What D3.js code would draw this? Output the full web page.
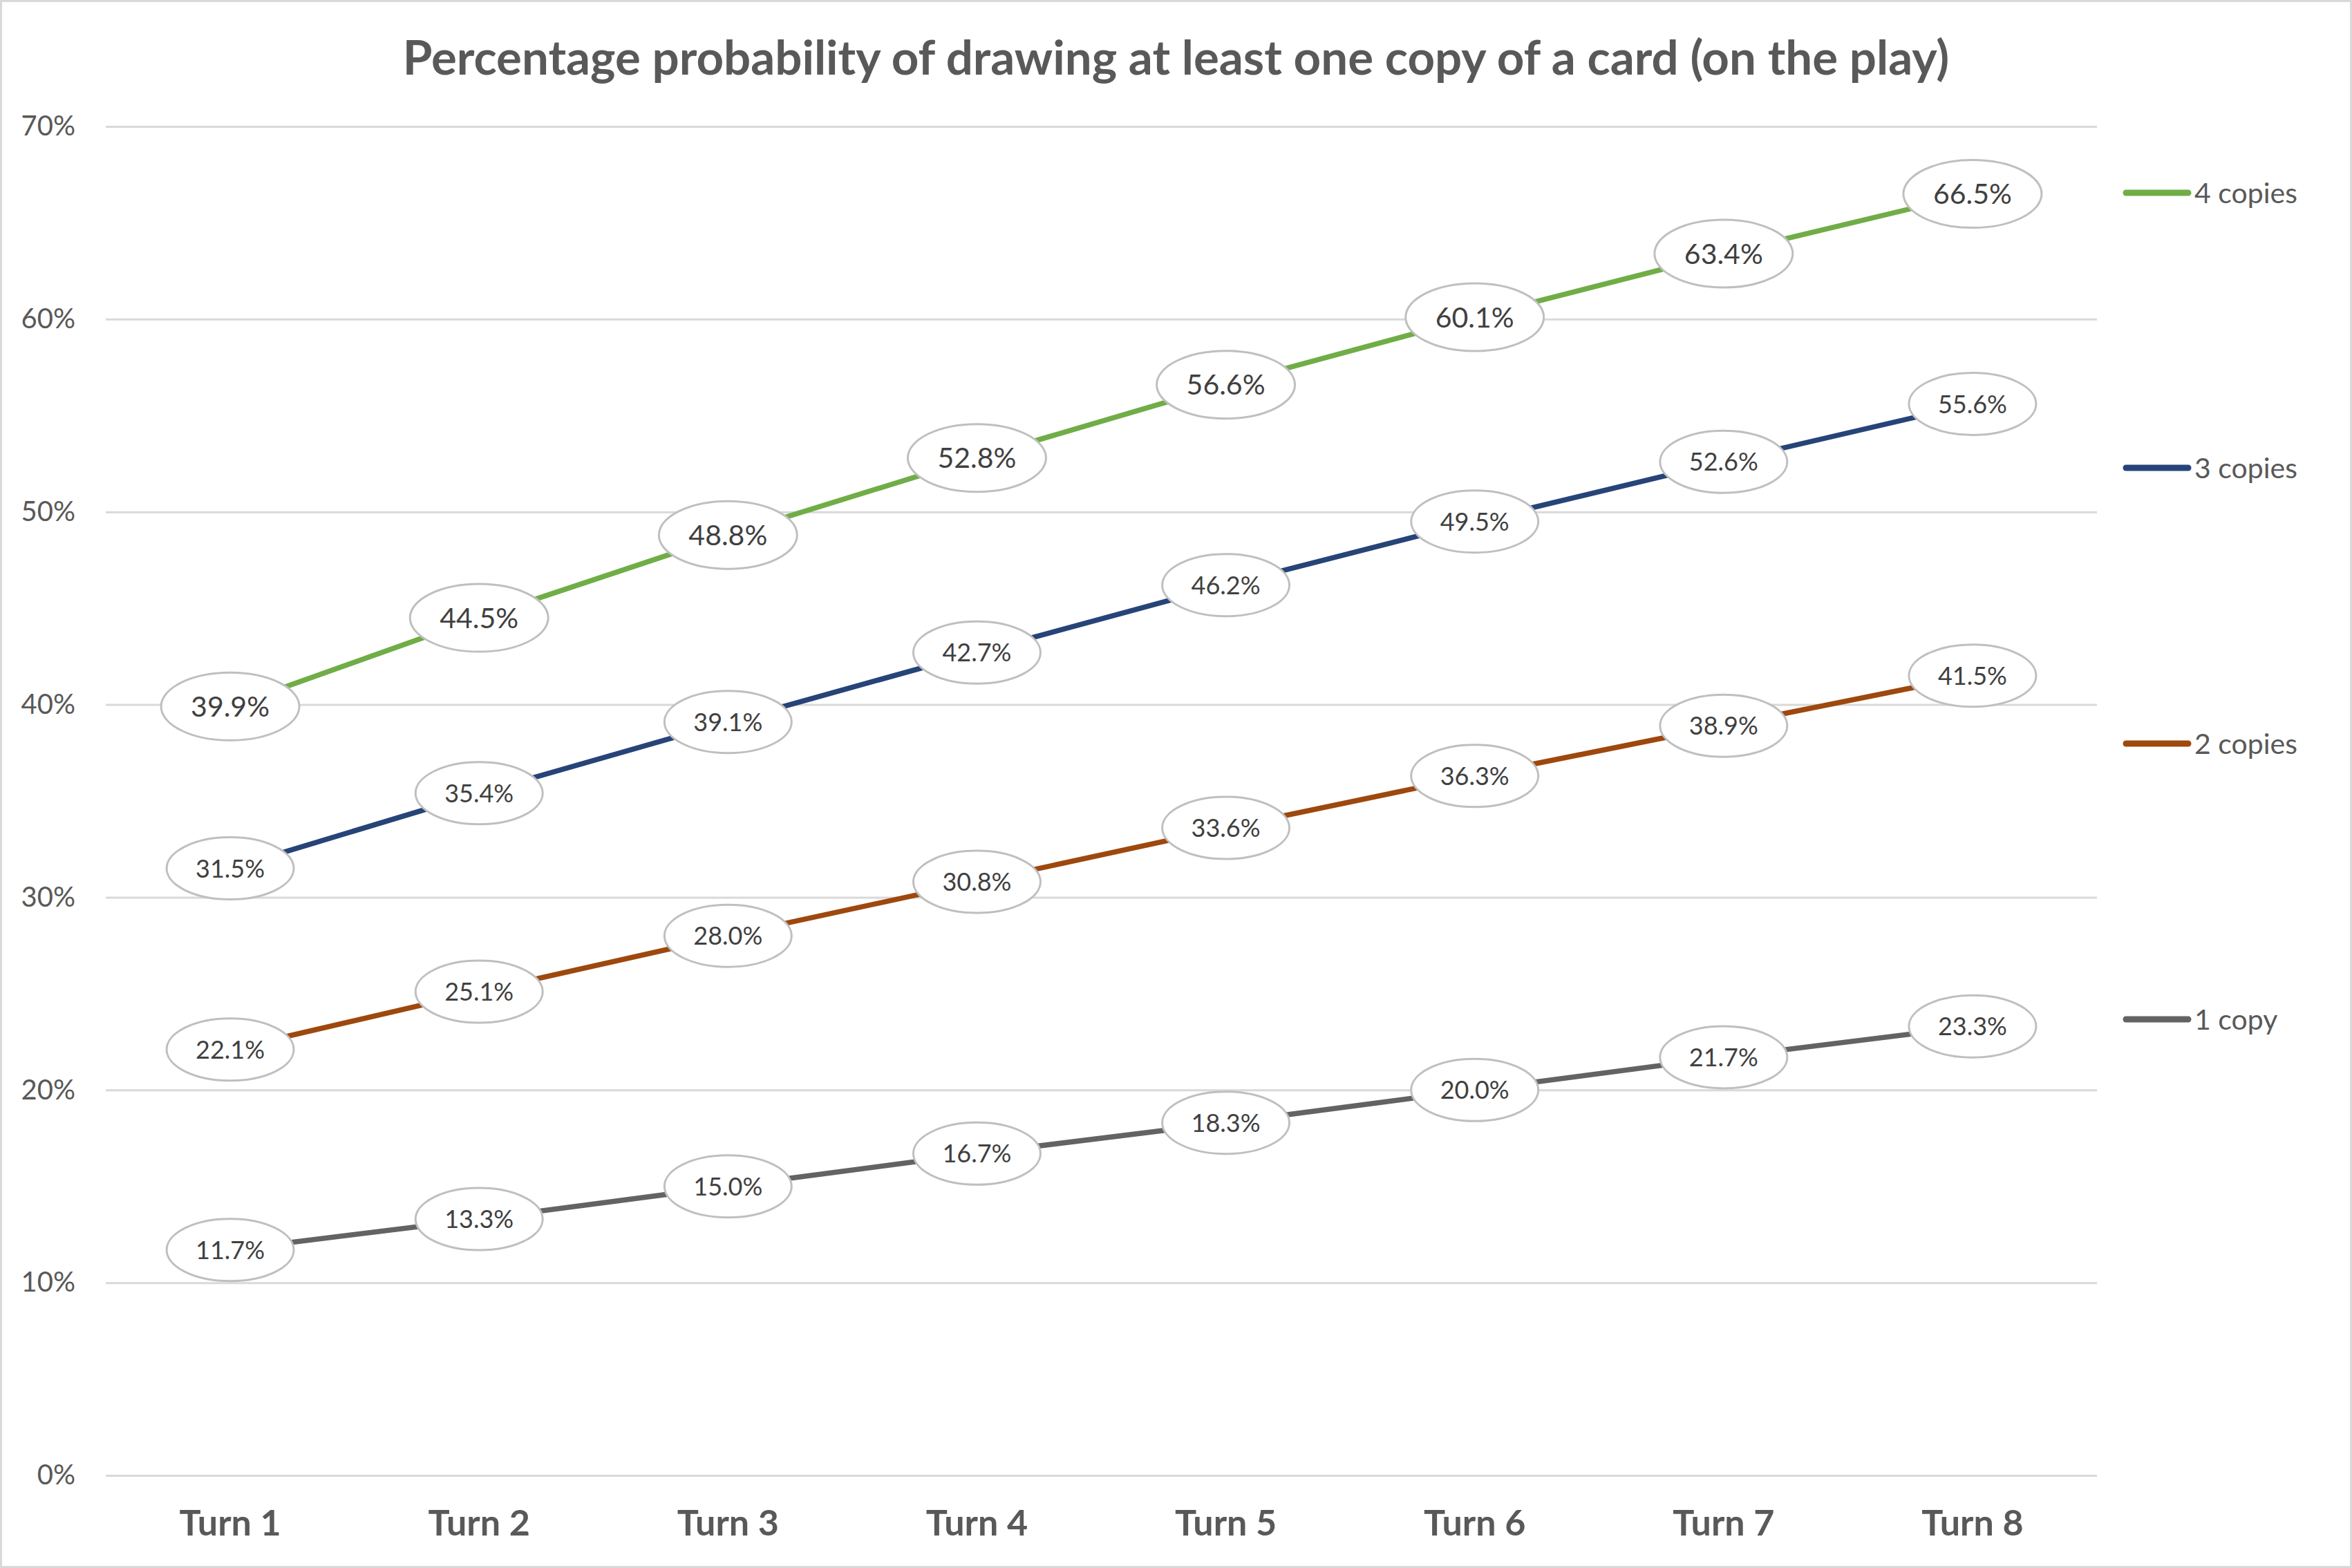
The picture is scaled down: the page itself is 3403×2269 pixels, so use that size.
<!DOCTYPE html>
<html>
<head>
<meta charset="utf-8">
<script src="https://cdn.jsdelivr.net/npm/d3@7"></script>
<style>
  html, body { margin: 0; padding: 0; background: #fff; }
  svg { display: block; }
</style>
</head>
<body>
<svg id="chart" width="3403" height="2269"></svg>
<script>
const title = "Percentage probability of drawing at least one copy of a card (on the play)";
const turns = ["Turn 1", "Turn 2", "Turn 3", "Turn 4", "Turn 5", "Turn 6", "Turn 7", "Turn 8"];
const yTicks = [0, 10, 20, 30, 40, 50, 60, 70];
const seriesNames = ["1 copy", "2 copies", "3 copies", "4 copies"];
const seriesColors = ["#636363", "#9E480E", "#264478", "#70AD47"];
const oneCopy   = [11.7, 13.3, 15.0, 16.7, 18.3, 20.0, 21.7, 23.3];
const twoCopies = [22.1, 25.1, 28.0, 30.8, 33.6, 36.3, 38.9, 41.5];
const threeCopies = [31.5, 35.4, 39.1, 42.7, 46.2, 49.5, 52.6, 55.6];
const fourCopies  = [39.9, 44.5, 48.8, 52.8, 56.6, 60.1, 63.4, 66.5];
const seriesValues = [oneCopy, twoCopies, threeCopies, fourCopies];

const W = 3403, H = 2269;
const font = "Lato, 'Open Sans', sans-serif";
const textColor = "#595959";
const plot = { left: 153, right: 3034, top: 183, bottom: 2135 };

const svg = d3.select("#chart");
svg.append("rect").attr("x", 0).attr("y", 0).attr("width", W).attr("height", H).attr("fill", "#fff");
svg.append("rect").attr("x", 1.5).attr("y", 1.5).attr("width", W - 3).attr("height", H - 3)
  .attr("fill", "none").attr("stroke", "#d9d9d9").attr("stroke-width", 3);

const x = d3.scaleBand().domain(turns).range([plot.left, plot.right]);
const cx = d => x(d) + x.bandwidth() / 2;
const y = d3.scaleLinear().domain([0, 70]).range([plot.bottom, plot.top]);

// Title
svg.append("text")
  .attr("x", W / 2).attr("y", 108)
  .attr("text-anchor", "middle")
  .attr("font-family", font).attr("font-weight", "bold")
  .attr("font-size", 69).attr("fill", textColor)
  .text(title);

// Y axis with gridlines
const yAxis = svg.append("g")
  .attr("transform", `translate(${plot.left},0)`)
  .call(d3.axisLeft(y).tickValues(yTicks).tickFormat(d => d + "%")
    .tickSize(-(plot.right - plot.left)).tickPadding(44));
yAxis.select(".domain").remove();
yAxis.selectAll(".tick line").attr("stroke", "#d9d9d9").attr("stroke-width", 3);
yAxis.selectAll(".tick text")
  .attr("font-family", font).attr("font-size", 40).attr("fill", textColor);

// X axis
const xAxis = svg.append("g")
  .attr("transform", `translate(0,${plot.bottom})`)
  .call(d3.axisBottom(x).tickSize(0).tickPadding(50));
xAxis.select(".domain").remove();
xAxis.selectAll(".tick text")
  .attr("font-family", font).attr("font-weight", "bold")
  .attr("font-size", 52).attr("fill", textColor);

// Lines
const line = d3.line().x((d, i) => cx(turns[i])).y(d => y(d));
seriesValues.forEach((vals, s) => {
  svg.append("path")
    .datum(vals)
    .attr("d", line)
    .attr("fill", "none")
    .attr("stroke", seriesColors[s])
    .attr("stroke-width", 7.5)
    .attr("stroke-linejoin", "round")
    .attr("stroke-linecap", "round");
});

// Data labels (ellipses)
seriesValues.forEach((vals, s) => {
  const big = s === 3;
  const rx = big ? 100 : 92, ry = big ? 49 : 45;
  const g = svg.append("g");
  vals.forEach((v, i) => {
    const px = cx(turns[i]), py = y(v);
    g.append("ellipse")
      .attr("cx", px).attr("cy", py).attr("rx", rx).attr("ry", ry)
      .attr("fill", "#fff").attr("stroke", "#bfbfbf").attr("stroke-width", 3);
    g.append("text")
      .attr("x", px).attr("y", py)
      .attr("dy", "0.36em")
      .attr("text-anchor", "middle")
      .attr("font-family", font)
      .attr("font-size", big ? 41 : 36)
      .attr("fill", "#404040")
      .text(v.toFixed(1) + "%");
  });
});

// Legend
const legendY = [1475, 1076, 677, 279];
seriesNames.forEach((name, s) => {
  const ly = legendY[s];
  svg.append("line")
    .attr("x1", 3076).attr("x2", 3166).attr("y1", ly).attr("y2", ly)
    .attr("stroke", seriesColors[s]).attr("stroke-width", 9)
    .attr("stroke-linecap", "round");
  svg.append("text")
    .attr("x", 3175).attr("y", ly).attr("dy", "0.36em")
    .attr("font-family", font).attr("font-size", 41).attr("fill", textColor)
    .text(name);
});
</script>
</body>
</html>
